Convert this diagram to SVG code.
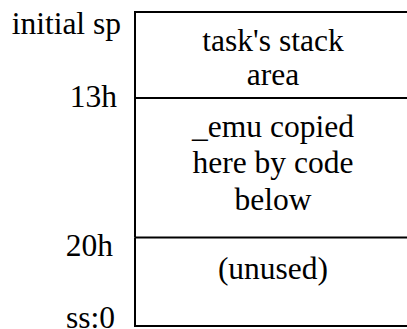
<svg xmlns="http://www.w3.org/2000/svg" width="407" height="329" viewBox="0 0 407 329">
<style>
.t{font-family:'Liberation Serif','Times New Roman','DejaVu Serif',serif;font-size:31.5px;fill:#000}
.c{text-anchor:middle}
.r{text-anchor:end}
.ln{stroke:#000;stroke-width:2;fill:none}
</style>
<rect width="407" height="329" fill="#fff"/>
<g id="labels" class="t">
<text class="r" x="121" y="34">initial sp</text>
<text class="r" x="117" y="107">13h</text>
<text class="r" x="113" y="256">20h</text>
<text class="r" x="115" y="328">ss:0</text>
</g>
<g id="connectors">
<line class="ln" x1="135" y1="98" x2="412" y2="98"/>
<line class="ln" x1="135" y1="237.5" x2="412" y2="237.5"/>
</g>
<g id="stack-area" class="t">
<path class="ln" d="M412 12H135V98"/>
<text class="c" x="273" y="51">task's stack</text>
<text class="c" x="273" y="85">area</text>
</g>
<g id="emu-area" class="t">
<path class="ln" d="M135 98V237.5"/>
<text class="c" x="273" y="137">_emu copied</text>
<text class="c" x="273" y="173">here by code</text>
<text class="c" x="273" y="210">below</text>
</g>
<g id="unused-area" class="t">
<path class="ln" d="M135 237.5V326H412"/>
<text class="c" x="273" y="279">(unused)</text>
</g>
</svg>
